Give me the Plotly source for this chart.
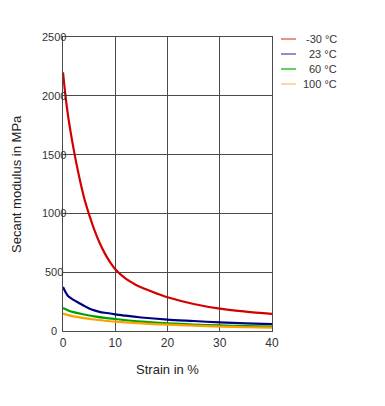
import plotly.graph_objects as go

strain_red = [0, 0.5, 1, 2, 3, 4, 5, 6, 7, 8, 9, 10, 12, 14, 16, 18, 20, 25, 30, 35, 40]
mod_red = [2200, 1990, 1820, 1555, 1330, 1140, 990, 860, 750, 660, 585, 525, 445, 392, 352, 318, 287, 230, 190, 165, 145]

strain_blue = [0, 0.5, 1, 2, 3, 4, 5, 6, 7, 8, 10, 12, 15, 20, 25, 30, 35, 40]
mod_blue = [375, 330, 295, 265, 240, 215, 192, 175, 163, 155, 142, 130, 115, 97, 85, 73, 65, 58]

strain_green = [0, 1, 2, 4, 6, 8, 10, 15, 20, 25, 30, 35, 40]
mod_green = [195, 175, 160, 140, 125, 112, 102, 80, 66, 55, 47, 41, 37]

strain_orange = [0, 1, 2, 4, 6, 8, 10, 15, 20, 25, 30, 35, 40]
mod_orange = [148, 135, 125, 110, 98, 87, 79, 64, 54, 45, 38, 32, 28]

series_names = ["-30 °C", "23 °C", "60 °C", "100 °C"]
series_colors = ["#d40000", "#000080", "#00a000", "#ffa000"]
legend_colors = ["#e06a6a", "#6a6ab8", "#30c030", "#ffc880"]

x_ticks = [0, 10, 20, 30, 40]
y_ticks = [0, 500, 1000, 1500, 2000, 2500]

fig = go.Figure()
for xs, ys, c, n in zip([strain_red, strain_blue, strain_green, strain_orange],
                        [mod_red, mod_blue, mod_green, mod_orange],
                        series_colors, series_names):
    fig.add_trace(go.Scatter(x=xs, y=ys, mode="lines", name=n,
                             line=dict(color=c, width=2.2, shape="spline", smoothing=0.8),
                             showlegend=False))

font = "Liberation Sans, Arial, sans-serif"
fig.update_layout(
    width=385, height=406,
    margin=dict(l=55, r=121, t=29, b=83),
    paper_bgcolor="white", plot_bgcolor="white",
    font=dict(family=font, size=11, color="#222"),
    xaxis=dict(range=[0, 40], tickvals=x_ticks, showticklabels=True, ticks="",
               showgrid=True, gridcolor="#4a4a4a", gridwidth=1.3,
               showline=True, linecolor="#4a4a4a", linewidth=1.3, mirror=True,
               zeroline=False, tickfont=dict(size=12, color="#333"),
               title=dict(text="Strain in %", font=dict(size=13, color="#222"), standoff=16)),
    yaxis=dict(range=[0, 2500], tickvals=y_ticks, showticklabels=False, ticks="",
               showgrid=True, gridcolor="#4a4a4a", gridwidth=1.3,
               showline=True, linecolor="#4a4a4a", linewidth=1.3, mirror=True,
               zeroline=False),
)

for v in y_ticks:
    fig.add_annotation(x=0, xref="paper", xshift=-9, y=v, yref="y", text=str(v),
                       showarrow=False, xanchor="center", yanchor="middle",
                       font=dict(size=11, color="#333"))

fig.add_annotation(x=0, xref="paper", xshift=-47, y=0.5, yref="paper",
                   text="Secant modulus in MPa", showarrow=False, textangle=-90,
                   xanchor="center", font=dict(size=13, color="#222"))

for i, (n, c) in enumerate(zip(series_names, legend_colors)):
    yp = 39 + 15 * i
    fig.add_shape(type="line", xref="paper", yref="paper",
                  x0=1 + 9 / 209, x1=1 + 24 / 209,
                  y0=1 - (yp - 37) / 294, y1=1 - (yp - 37) / 294,
                  line=dict(color=c, width=1.5))
    fig.add_annotation(xref="paper", yref="paper", x=1 + 67 / 209,
                       y=1 - (yp - 37) / 294, text=n, showarrow=False,
                       xanchor="right", yanchor="middle",
                       font=dict(size=11, color="#333"))

fig.write_html("out.html")
